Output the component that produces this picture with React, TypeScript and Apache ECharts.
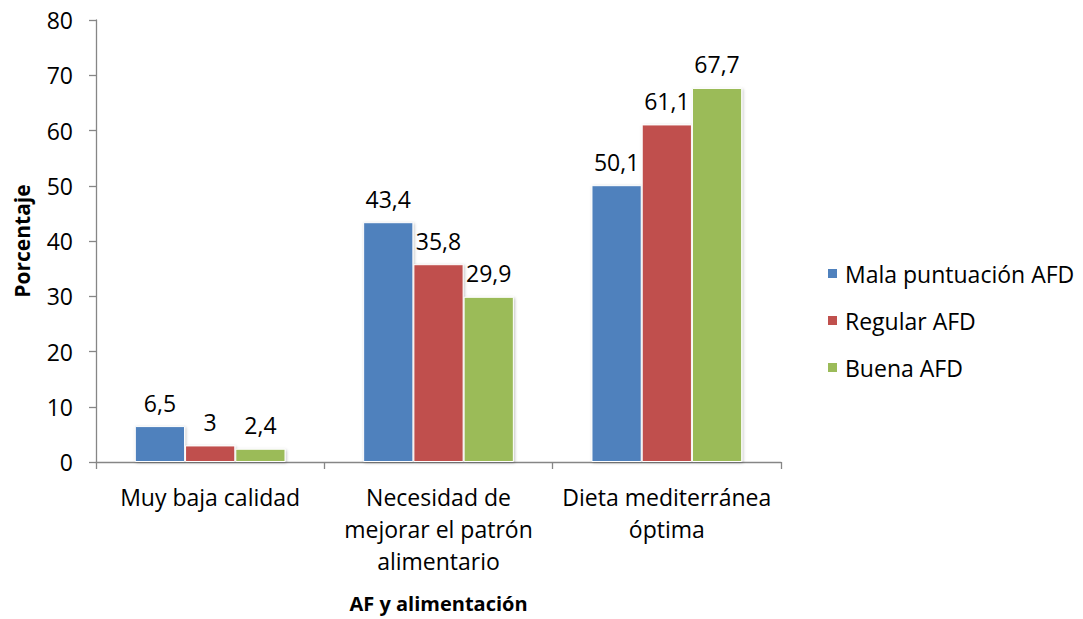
import React, { useEffect, useRef } from "react";
import * as echarts from "echarts";

const categories = [
  "Muy baja calidad",
  "Necesidad de\nmejorar el patrón\nalimentario",
  "Dieta mediterránea\nóptima",
];
const seriesNames = ["Mala puntuación AFD", "Regular AFD", "Buena AFD"];
const malaValues = [6.5, 43.4, 50.1];
const regularValues = [3, 35.8, 61.1];
const buenaValues = [2.4, 29.9, 67.7];
const colors = ["#4F81BD", "#C0504D", "#9BBB59"];

const FONT = "'Open Sans', sans-serif";
const FS = 23;

export default function App() {
  const ref = useRef<HTMLDivElement>(null);

  useEffect(() => {
    if (!ref.current) return;
    const chart = echarts.init(ref.current, null, { renderer: "svg" });
    const values = [malaValues, regularValues, buenaValues];
    chart.setOption({
      animation: false,
      backgroundColor: "#ffffff",
      textStyle: { fontFamily: FONT, color: "#000" },
      grid: { left: 96, right: 302, top: 20, bottom: 157, outerBoundsMode: "none", containLabel: false },
      legend: {
        orient: "vertical",
        left: 821,
        top: 257,
        itemGap: 24,
        itemWidth: 11,
        itemHeight: 11,
        icon: "rect",
        data: seriesNames,
        textStyle: { fontFamily: FONT, fontSize: FS, color: "#000", padding: [0, 0, 0, 2] },
      },
      xAxis: {
        type: "category",
        data: categories,
        name: "AF y alimentación",
        nameLocation: "middle",
        nameGap: 131,
        nameTextStyle: { fontFamily: FONT, fontSize: 20, fontWeight: "bold", color: "#000" },
        axisLine: { lineStyle: { color: "#868686", width: 1.3 } },
        axisTick: { show: true, length: 7, lineStyle: { color: "#868686", width: 1.3 } },
        axisLabel: {
          fontFamily: FONT,
          fontSize: FS,
          color: "#000",
          margin: 19,
          lineHeight: 32,
          interval: 0,
        },
      },
      yAxis: {
        type: "value",
        min: 0,
        max: 80,
        interval: 10,
        name: "Porcentaje",
        nameLocation: "middle",
        nameGap: 64,
        nameRotate: 90,
        nameTextStyle: { fontFamily: FONT, fontSize: 21, fontWeight: "bold", color: "#000" },
        axisLine: { show: true, lineStyle: { color: "#868686", width: 1.3 } },
        axisTick: { show: true, length: 7, lineStyle: { color: "#868686", width: 1.3 } },
        splitLine: { show: false },
        axisLabel: { fontFamily: FONT, fontSize: FS, color: "#000", margin: 23 },
      },
      series: seriesNames.map((name, i) => ({
        name,
        type: "bar",
        data: values[i],
        barGap: "0%",
        barCategoryGap: "34%",
        itemStyle: {
          color: colors[i],
          borderColor: "#ffffff",
          borderWidth: 1,
          shadowColor: "rgba(0,0,0,0.25)",
          shadowBlur: 3,
          shadowOffsetX: 1,
          shadowOffsetY: 1,
        },
        label: {
          show: true,
          position: "top",
          distance: 12,
          fontFamily: FONT,
          fontSize: FS,
          color: "#000",
          formatter: (p: any) => String(p.value).replace(".", ","),
        },
      })),
    });
    return () => chart.dispose();
  }, []);

  return (
    <div
      ref={ref}
      style={{ position: "absolute", left: 0, top: 0, width: 1083, height: 619 }}
    />
  );
}
